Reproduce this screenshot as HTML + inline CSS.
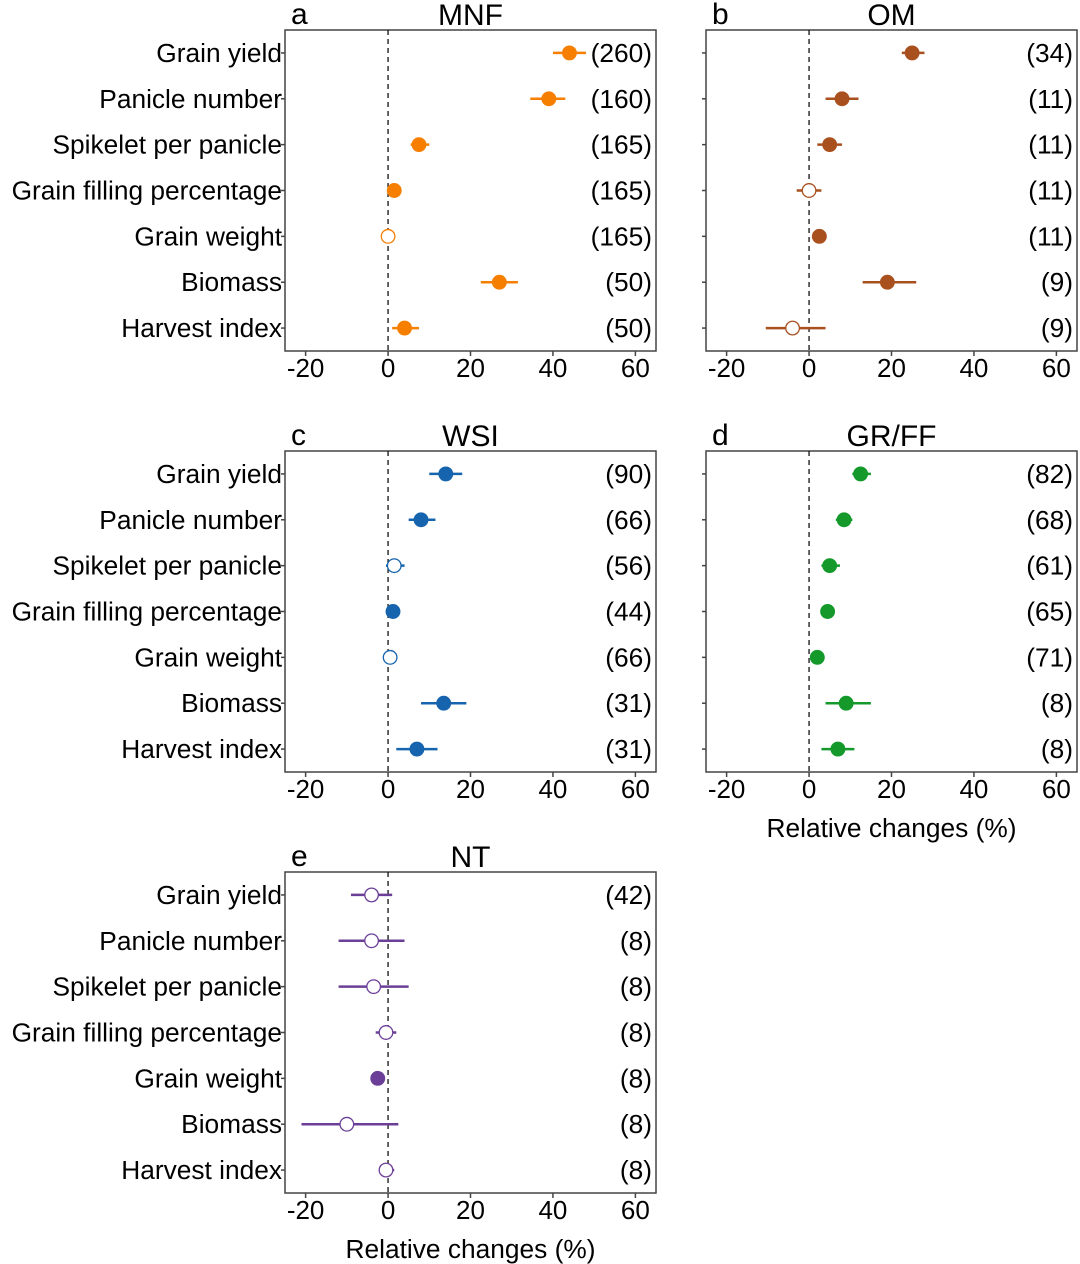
<!DOCTYPE html>
<html><head><meta charset="utf-8"><style>
html,body{margin:0;padding:0;background:#fff;width:1080px;height:1264px;overflow:hidden}
svg{display:block;font-family:"Liberation Sans",Arial,sans-serif}
</style></head><body>
<svg id="c" width="1080" height="1264"></svg>
<script>
const categories=["Grain yield","Panicle number","Spikelet per panicle","Grain filling percentage","Grain weight","Biomass","Harvest index"];
const xTicks=[-20,0,20,40,60];
const mnfMean=[44,39,7.5,1.5,0,27,4];
const mnfLo=[40,34.5,5.5,0.5,-1.5,22.5,1];
const mnfHi=[48,43,10,2.5,1.5,31.5,7.5];
const mnfSig=[1,1,1,1,0,1,1];
const mnfN=["(260)","(160)","(165)","(165)","(165)","(50)","(50)"];
const omMean=[25,8,5,0,2.5,19,-4];
const omLo=[22.5,4,2,-3,1,13,-10.5];
const omHi=[28,12,8,3,4,26,4];
const omSig=[1,1,1,0,1,1,0];
const omN=["(34)","(11)","(11)","(11)","(11)","(9)","(9)"];
const wsiMean=[14,8,1.5,1.2,0.5,13.5,7];
const wsiLo=[10,5,-0.5,0.5,-0.5,8,2];
const wsiHi=[18,11.5,4,2,2,19,12];
const wsiSig=[1,1,0,1,0,1,1];
const wsiN=["(90)","(66)","(56)","(44)","(66)","(31)","(31)"];
const grMean=[12.5,8.5,5,4.5,2,9,7];
const grLo=[10.5,6.5,3,3,1,4,3];
const grHi=[15,10.5,7.5,6,3,15,11];
const grSig=[1,1,1,1,1,1,1];
const grN=["(82)","(68)","(61)","(65)","(71)","(8)","(8)"];
const ntMean=[-4,-4,-3.5,-0.5,-2.5,-10,-0.5];
const ntLo=[-9,-12,-12,-3,-4,-21,-2];
const ntHi=[1,4,5,2,-1,2.5,1.5];
const ntSig=[0,0,0,0,1,0,0];
const ntN=["(42)","(8)","(8)","(8)","(8)","(8)","(8)"];

const panels=[
 {id:"a",t:"MNF",x:285,y:30,col:"#f77f00",m:mnfMean,lo:mnfLo,hi:mnfHi,s:mnfSig,n:mnfN,labels:true,xt:false},
 {id:"b",t:"OM",x:706,y:30,col:"#a9501f",m:omMean,lo:omLo,hi:omHi,s:omSig,n:omN,labels:false,xt:false},
 {id:"c",t:"WSI",x:285,y:451,col:"#1664ad",m:wsiMean,lo:wsiLo,hi:wsiHi,s:wsiSig,n:wsiN,labels:true,xt:false},
 {id:"d",t:"GR/FF",x:706,y:451,col:"#14992a",m:grMean,lo:grLo,hi:grHi,s:grSig,n:grN,labels:false,xt:true},
 {id:"e",t:"NT",x:285,y:872,col:"#6b3f98",m:ntMean,lo:ntLo,hi:ntHi,s:ntSig,n:ntN,labels:true,xt:true}
];
const W=371,H=321,svg=document.getElementById("c"),NS="http://www.w3.org/2000/svg";
function mk(tag,a,p){const e=document.createElementNS(NS,tag);for(const k in a)e.setAttribute(k,a[k]);(p||svg).appendChild(e);return e;}
panels.forEach(P=>{
 const g=mk("g",{});
 
 
 const sx=v=>P.x+(v+25)/90*W;
 const sy=i=>P.y+(i+0.5)*H/7;
 let t=mk("text",{x:P.x+6,y:P.y-6,"font-size":30},g);t.textContent=P.id;
 
 t=mk("text",{x:P.x+W/2,y:P.y-5,"font-size":30,"text-anchor":"middle"},g);t.textContent=P.t;
 
 const r=mk("rect",{x:P.x,y:P.y,width:W,height:H,fill:"none",stroke:"#444","stroke-width":1.5},g);
 
 const z=mk("line",{x1:sx(0),x2:sx(0),y1:P.y,y2:P.y+H,stroke:"#111","stroke-dasharray":"5,4","stroke-width":1.3},g);
 
 xTicks.forEach(v=>{
  mk("line",{x1:sx(v),x2:sx(v),y1:P.y+H,y2:P.y+H+5,stroke:"#444","stroke-width":1.5},g);
  const l=mk("text",{x:sx(v),y:P.y+H+26,"font-size":26,"text-anchor":"middle"},g);l.textContent=v;
  
 });
 categories.forEach((c,i)=>{
  const y=sy(i);
  mk("line",{x1:P.x-4,x2:P.x,y1:y,y2:y,stroke:"#444","stroke-width":1.5},g);
  if(P.labels){const l=mk("text",{x:P.x-3,y:y+9,"font-size":26.3,"text-anchor":"end"},g);l.textContent=c;
   }
  const n=mk("text",{x:P.x+W-4,y:y+9,"font-size":26.3,"text-anchor":"end"},g);n.textContent=P.n[i];
  
  const e=mk("line",{x1:sx(P.lo[i]),x2:sx(P.hi[i]),y1:y,y2:y,stroke:P.col,"stroke-width":2.5},g);
  
  const p=mk("circle",{cx:sx(P.m[i]),cy:y,r:6.8,fill:P.s[i]?P.col:"#fff",stroke:P.col,"stroke-width":1.3},g);
  
 });
 if(P.xt){const a=mk("text",{x:P.x+W/2,y:P.y+H+65,"font-size":26.3,"text-anchor":"middle"},g);a.textContent="Relative changes (%)";
  }
});
</script>
</body></html>
